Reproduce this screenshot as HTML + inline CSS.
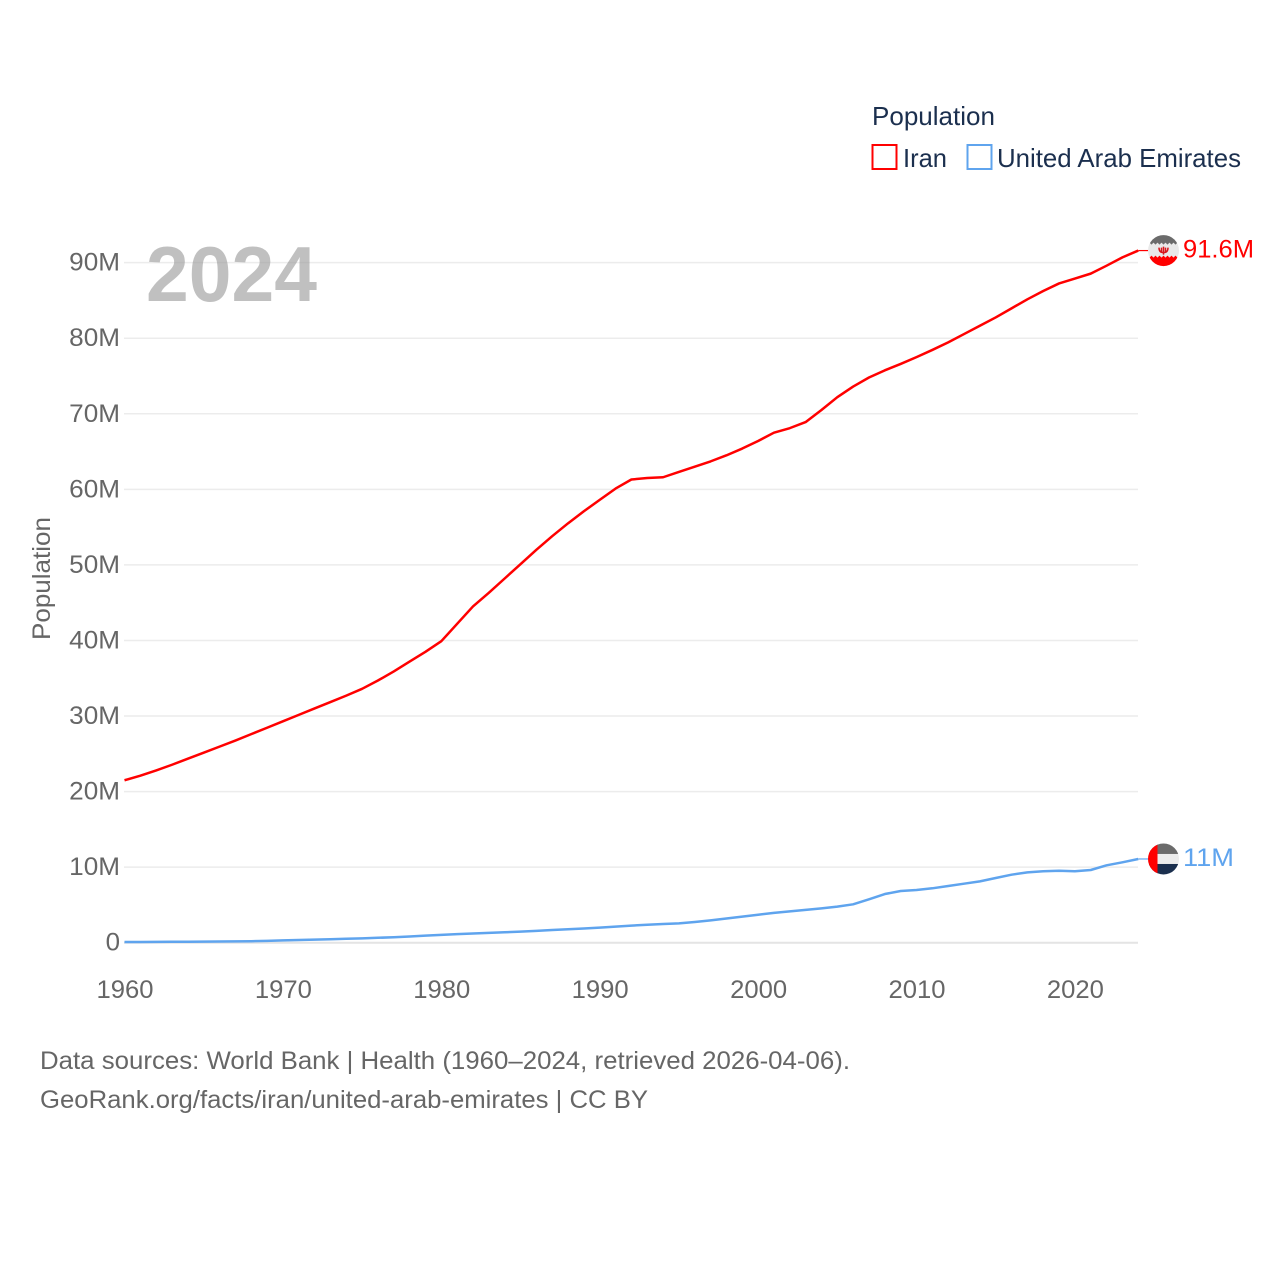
<!DOCTYPE html>
<html lang="en">
<head>
<meta charset="utf-8">
<title>Population: Iran and United Arab Emirates</title>
<style>
html,body{margin:0;padding:0;background:#fff;}
svg{display:block;}
text{font-family:"Liberation Sans",Arial,sans-serif;}
</style>
</head>
<body>
<svg id="chart" xmlns="http://www.w3.org/2000/svg" width="1280" height="1280" viewBox="0 0 1280 1280">
  <defs>
    <clipPath id="iran-clip"><circle cx="0" cy="0" r="15.5"/></clipPath>
    <clipPath id="uae-clip"><circle cx="0" cy="0" r="15.5"/></clipPath>
  </defs>
  <rect width="1280" height="1280" fill="#fff"/>
  <g id="grid"></g>
  <text x="146" y="301" font-size="78" font-weight="700" fill="#9a9a9a" fill-opacity="0.62" textLength="171" lengthAdjust="spacingAndGlyphs">2024</text>
  <g id="yticks"></g>
  <g id="xticks"></g>
  <text transform="translate(50,640) rotate(-90)" font-size="25" fill="#666" textLength="123" lengthAdjust="spacingAndGlyphs">Population</text>
  <g id="series"></g>
  <g id="end-labels"></g>

  <g>
    <text x="872" y="125" font-size="26" fill="#1b2f4e" textLength="123" lengthAdjust="spacingAndGlyphs">Population</text>
    <rect x="872.5" y="145" width="24" height="24" fill="none" stroke="#ff0000" stroke-width="2"/>
    <text x="903" y="167" font-size="26" fill="#1b2f4e" textLength="44" lengthAdjust="spacingAndGlyphs">Iran</text>
    <rect x="967.5" y="145" width="24" height="24" fill="none" stroke="#5fa4ee" stroke-width="2"/>
    <text x="997" y="167" font-size="26" fill="#1b2f4e" textLength="244" lengthAdjust="spacingAndGlyphs">United Arab Emirates</text>
  </g>

  <g>
    <text x="40" y="1069" font-size="25" fill="#666" textLength="810" lengthAdjust="spacingAndGlyphs">Data sources: World Bank | Health (1960–2024, retrieved 2026-04-06).</text>
    <text x="40" y="1108" font-size="25" fill="#666" textLength="608" lengthAdjust="spacingAndGlyphs">GeoRank.org/facts/iran/united-arab-emirates | CC BY</text>
  </g>
</svg>
<script>
const firstYear = 1960;
const iranValues = [21.5,22.1,22.8,23.55,24.35,25.15,25.95,26.75,27.6,28.45,29.3,30.15,31,31.85,32.7,33.6,34.7,35.9,37.2,38.5,39.9,42.2,44.5,46.3,48.2,50.1,52,53.8,55.5,57.1,58.6,60.1,61.3,61.5,61.6,62.3,63,63.7,64.5,65.4,66.4,67.5,68.1,68.9,70.5,72.2,73.6,74.8,75.75,76.6,77.5,78.45,79.45,80.55,81.65,82.75,83.95,85.15,86.25,87.25,87.9,88.55,89.6,90.7,91.6];
const uaeValues = [0.09,0.1,0.11,0.12,0.13,0.14,0.16,0.18,0.2,0.24,0.3,0.35,0.4,0.46,0.52,0.58,0.65,0.72,0.82,0.93,1.04,1.13,1.22,1.3,1.38,1.47,1.57,1.68,1.78,1.88,1.99,2.12,2.26,2.38,2.47,2.56,2.74,2.95,3.2,3.45,3.7,3.95,4.15,4.35,4.55,4.77,5.08,5.74,6.44,6.84,6.97,7.2,7.5,7.81,8.12,8.56,9,9.31,9.45,9.53,9.45,9.62,10.24,10.64,11.08];
const yTickValues = [0,10,20,30,40,50,60,70,80,90];
const yTickLabels = ["0","10M","20M","30M","40M","50M","60M","70M","80M","90M"];
const xTickValues = [1960,1970,1980,1990,2000,2010,2020];
const xTickLabels = ["1960","1970","1980","1990","2000","2010","2020"];
const iranEndLabel = "91.6M";
const uaeEndLabel = "11M";

const NS = 'http://www.w3.org/2000/svg';
function xScale(year){ return 124.5 + (year - 1960) * 15.84; }
function yScale(v){ return 942.7 - v * 7.556; }
function make(tag, attrs, parent){
  const el = document.createElementNS(NS, tag);
  for (const k in attrs) el.setAttribute(k, attrs[k]);
  parent.appendChild(el);
  return el;
}
function labelWidth(s){
  let w = 0;
  for (const c of s) w += c === 'M' ? 22 : (c === '.' ? 7 : 14.4);
  return w;
}
const gridG = document.getElementById('grid');
const yG = document.getElementById('yticks');
const xG = document.getElementById('xticks');
const seriesG = document.getElementById('series');
const endG = document.getElementById('end-labels');

yTickValues.forEach(function(v, i){
  const isBase = v === 0;
  const line = make('line', {x1:124, x2:1138, y1:yScale(v), y2:yScale(v), stroke:isBase ? '#e4e4e4' : '#ececec', 'stroke-width':isBase ? 2 : 1.5}, gridG);
  
  
  const t = make('text', {x:120, y:yScale(v) + 8, 'font-size':25, fill:'#666', 'text-anchor':'end', textLength:labelWidth(yTickLabels[i]), lengthAdjust:'spacingAndGlyphs'}, yG);
  t.textContent = yTickLabels[i];
  
  
});

xTickValues.forEach(function(v, i){
  const t = make('text', {x:xScale(v) + 0.5, y:998, 'font-size':25, fill:'#666', 'text-anchor':'middle', textLength:57, lengthAdjust:'spacingAndGlyphs'}, xG);
  t.textContent = xTickLabels[i];
  
  
});

function linePath(values){
  return values.map(function(v, i){
    return (i ? 'L' : 'M') + xScale(firstYear + i).toFixed(2) + ' ' + yScale(v).toFixed(2);
  }).join(' ');
}
const iranLine = make('path', {d:linePath(iranValues), fill:'none', stroke:'#ff0000', 'stroke-width':2.5, 'stroke-linejoin':'round'}, seriesG);


const uaeLine = make('path', {d:linePath(uaeValues), fill:'none', stroke:'#5fa4ee', 'stroke-width':2.5, 'stroke-linejoin':'round'}, seriesG);



const lastYear = firstYear + iranValues.length - 1;
const endX = xScale(lastYear);
const flagX = 1163.5;

// Iran end marker
const iranY = yScale(iranValues[iranValues.length - 1]);
const iranConn = make('line', {x1:endX, x2:flagX - 15, y1:iranY, y2:iranY, stroke:'#ff0000', 'stroke-width':1.2}, endG);


const iranFlag = make('g', {transform:'translate(' + flagX + ',' + iranY + ')', 'clip-path':'url(#iran-clip)'}, endG);


make('rect', {x:-16, y:-16, width:32, height:32, fill:'#e9e9e9'}, iranFlag);
make('path', {d:'M-16 -16H16V-6L14 -8L12 -6L10 -8L8 -6L6 -8L4 -6L2 -8L0 -6L-2 -8L-4 -6L-6 -8L-8 -6L-10 -8L-12 -6L-14 -8L-16 -6Z', fill:'#6b6b6b'}, iranFlag);
make('path', {d:'M-16 16H16V5L14 7L12 5L10 7L8 5L6 7L4 5L2 7L0 5L-2 7L-4 5L-6 7L-8 5L-10 7L-12 5L-14 7L-16 5Z', fill:'#ff0000'}, iranFlag);
make('path', {d:'M-4.5 -3Q-4.5 2 0 2Q4.5 2 4.5 -3M0 -4V4M-2 -3V1M2 -3V1', fill:'none', stroke:'#d8161c', 'stroke-width':1.5}, iranFlag);
const iranLabel = make('text', {x:1183, y:iranY + 7, 'font-size':25, fill:'#ff0000', textLength:71, lengthAdjust:'spacingAndGlyphs'}, endG);
iranLabel.textContent = iranEndLabel;



// UAE end marker
const uaeY = yScale(uaeValues[uaeValues.length - 1]);
const uaeConn = make('line', {x1:endX, x2:flagX - 15, y1:uaeY, y2:uaeY, stroke:'#5fa4ee', 'stroke-width':1.2}, endG);


const uaeFlag = make('g', {transform:'translate(' + flagX + ',' + uaeY + ')', 'clip-path':'url(#uae-clip)'}, endG);


make('rect', {x:-16, y:-16, width:32, height:11, fill:'#6b6b6b'}, uaeFlag);
make('rect', {x:-16, y:-5, width:32, height:10, fill:'#ececec'}, uaeFlag);
make('rect', {x:-16, y:5, width:32, height:11, fill:'#1b2f4e'}, uaeFlag);
make('rect', {x:-16, y:-16, width:10, height:32, fill:'#ff0000'}, uaeFlag);
const uaeLabel = make('text', {x:1183, y:uaeY + 7, 'font-size':25, fill:'#5fa4ee', textLength:51, lengthAdjust:'spacingAndGlyphs'}, endG);
uaeLabel.textContent = uaeEndLabel;


</script>
</body>
</html>
